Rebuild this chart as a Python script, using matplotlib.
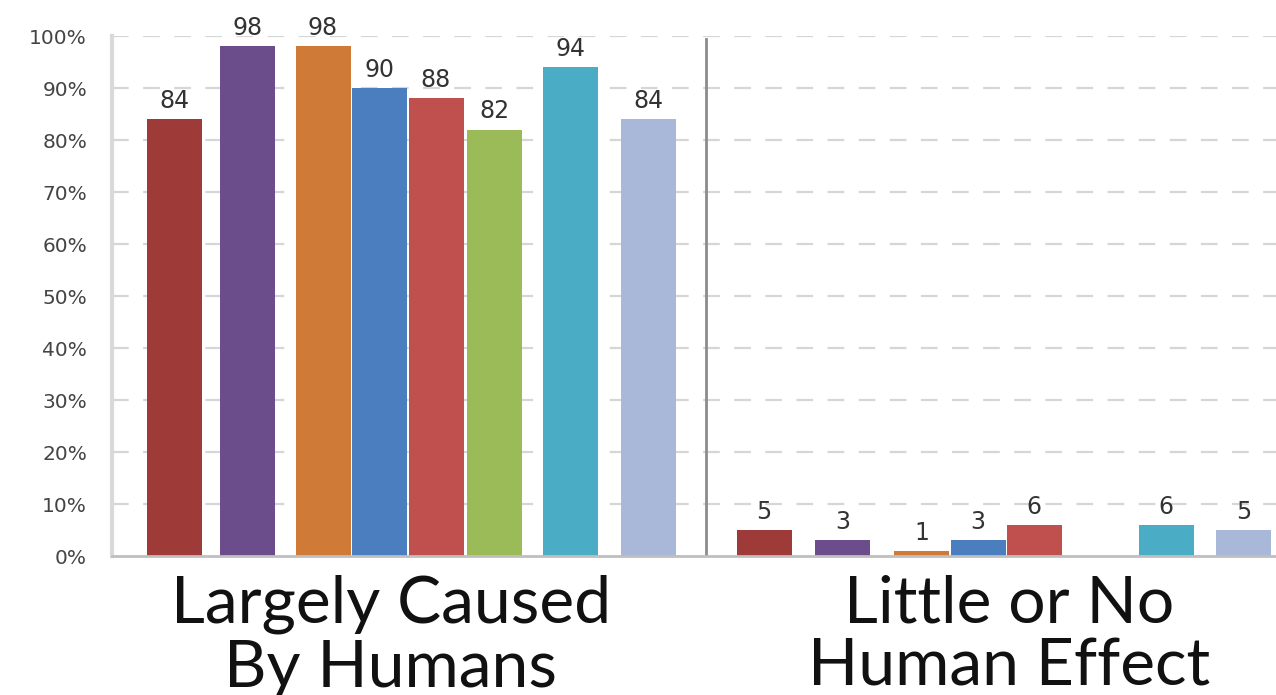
import numpy as np
import matplotlib
matplotlib.use("Agg")
import matplotlib.pyplot as plt

# Survey responses (%) per respondent group, for the two answer categories
categories = ["Largely Caused\nBy Humans", "Little or No\nHuman Effect"]
series_colors = ["#9E3B39", "#6A4D8A", "#CF7B37", "#4A7EBE",
                 "#C0504D", "#9BBB59", "#4BACC6", "#A9B8D9"]
largely_caused = [84, 98, 98, 90, 88, 82, 94, 84]
little_or_none = [5, 3, 1, 3, 6, np.nan, 6, 5]
values = [largely_caused, little_or_none]
tick_values = list(range(0, 101, 10))
tick_labels = [f"{v}%" for v in tick_values]

# Layout (x in pixel-like units across the plot area)
slot_offsets = [
    [0, 73.5, 149, 205.5, 262, 320, 396.5, 474],
    [0, 78.5, 157.5, 214, 270, 336, 402, 479.5],
]
group_starts = [62, 652]
label_centers = [279, 897]
bar_width = 55
divider_x = 594
x_span = 1164

fig = plt.figure(figsize=(12.76, 6.95), dpi=100)
ax = fig.add_axes([112 / 1276, 1 - 556 / 695, 1 - 112 / 1276, (556 - 36) / 695])
ax.set_xlim(0, x_span)
ax.set_ylim(0, 100)

for y in tick_values[1:]:
    ax.axhline(y, color="#d6d6d6", lw=1.6, ls=(0, (7.5, 6.5)), zorder=0)

for start, offs, vals in zip(group_starts, slot_offsets, values):
    for k, v in enumerate(vals):
        if np.isnan(v):
            continue
        x = start + offs[k]
        ax.bar(x, v, width=bar_width, color=series_colors[k], zorder=2)
        ax.text(x, v + 1.2, f"{v:g}", ha="center", va="bottom",
                fontsize=17, color="#333333", family="DejaVu Sans", zorder=3)

ax.axvline(divider_x, ymin=0, ymax=0.995, color="#8c8c8c", lw=2, zorder=1)

for spine in ["top", "right"]:
    ax.spines[spine].set_visible(False)
ax.spines["left"].set_color("#d9d9d9")
ax.spines["left"].set_linewidth(3)
ax.spines["bottom"].set_color("#bfbfbf")
ax.spines["bottom"].set_linewidth(2)

ax.set_yticks(tick_values)
ax.set_yticklabels(tick_labels, fontsize=14.5, color="#444444", family="DejaVu Sans")
ax.tick_params(axis="y", length=0, pad=18)
ax.set_xticks([])

for c, lab in zip(label_centers, categories):
    ax.text(c, -3.5, lab, ha="center", va="top", fontsize=47.5,
            family="Lato", color="#111111", linespacing=1.1)

fig.savefig("out.png", dpi=100, facecolor="white")
